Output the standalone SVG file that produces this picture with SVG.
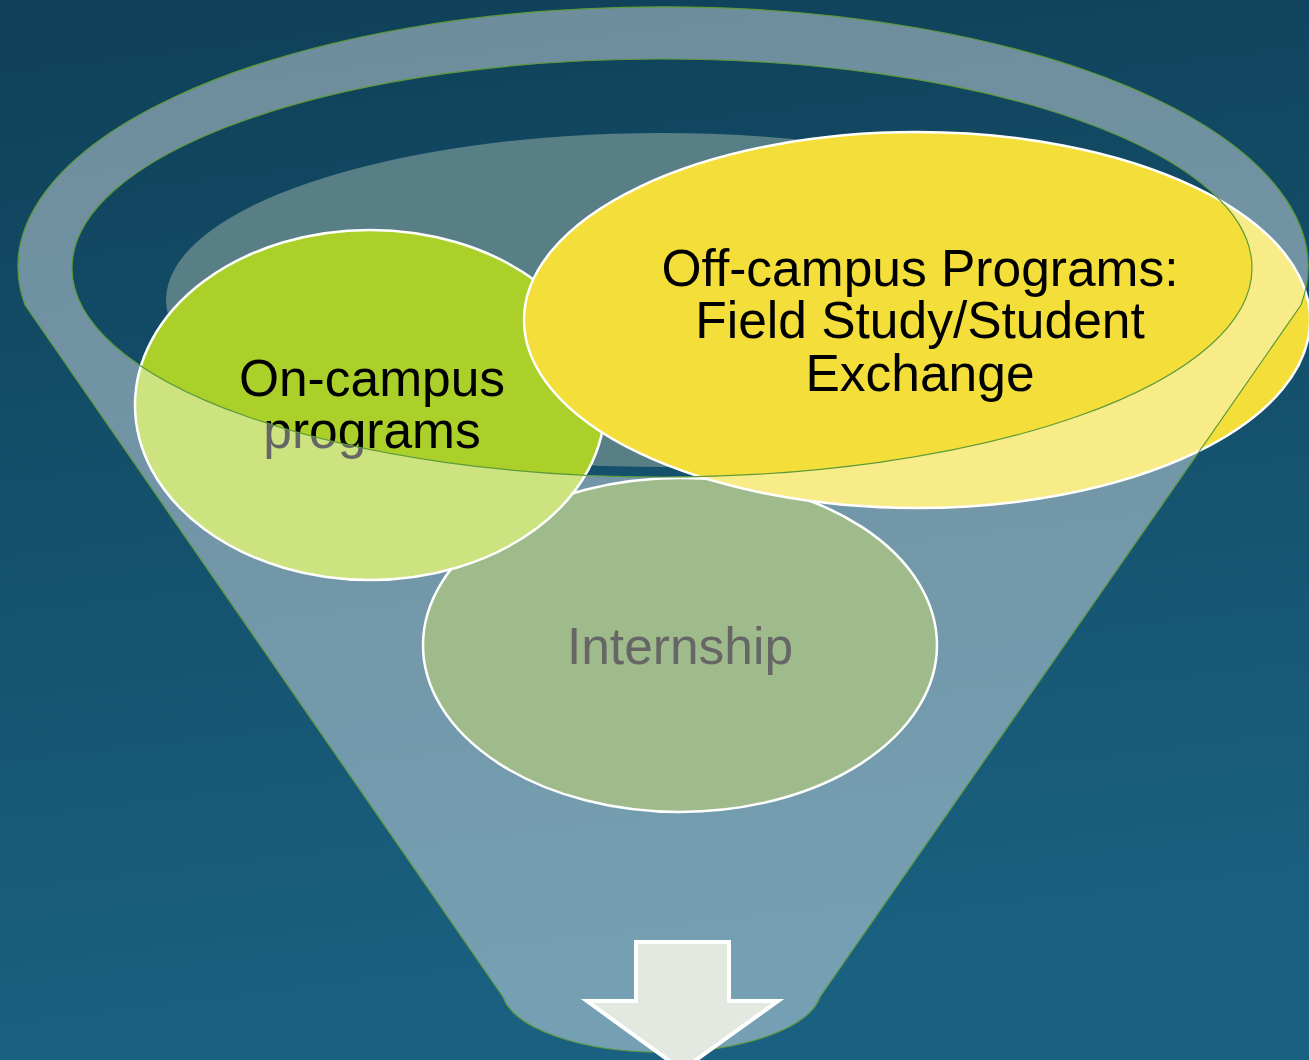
<svg xmlns="http://www.w3.org/2000/svg" width="1309" height="1060" viewBox="0 0 1309 1060">
  <defs>
    <linearGradient id="bg" x1="0" y1="0" x2="0.15" y2="1">
      <stop offset="0" stop-color="#0f4058"/>
      <stop offset="1" stop-color="#1a6181"/>
    </linearGradient>
  </defs>
  <style>
    .node { stroke: #ffffff; stroke-width: 2.5; }
    .lbl { font-family: "Liberation Sans", Arial, sans-serif; font-size: 51.5px; text-anchor: middle; fill: #000000; }
    .funnel { fill: #ffffff; fill-opacity: 0.4; fill-rule: evenodd; stroke: #5e9a3a; stroke-width: 1.2; }
    .arrow { fill: #e3e8e1; stroke: #ffffff; stroke-width: 4; }
  </style>
  <rect x="0" y="0" width="1309" height="1060" fill="url(#bg)"/>
  <ellipse id="funnel-back" cx="662" cy="300" rx="496" ry="167" fill="#587e86"/>
  <g id="node-internship">
    <ellipse class="node" cx="680" cy="645" rx="257" ry="167" fill="#608d3f"/>
    <text class="lbl" x="680" y="664">Internship</text>
  </g>
  <g id="node-oncampus">
    <ellipse class="node" cx="370" cy="405" rx="235" ry="175" fill="#acd02a"/>
    <text class="lbl" x="372" y="396">On-campus</text>
    <text class="lbl" x="372" y="448">programs</text>
  </g>
  <g id="node-offcampus">
    <ellipse class="node" cx="917" cy="320" rx="393" ry="188" fill="#f4df3a"/>
    <text class="lbl" x="920" y="286">Off-campus Programs:</text>
    <text class="lbl" x="920" y="338">Field Study/Student</text>
    <text class="lbl" x="920" y="391">Exchange</text>
  </g>
  <g id="funnel">
    <path class="funnel" d="M 25,305 A 645,260 0 1 1 1301,305 L 820,997 A 160,64 0 0 1 503,997 Z M 72,268 A 590,209 0 1 0 1252,268 A 590,209 0 1 0 72,268 Z"/>
  </g>
  <g id="connectors">
    <path class="arrow" d="M 636,942 L 729,942 L 729,1001 L 778,1001 L 682,1070 L 587,1001 L 636,1001 Z"/>
  </g>
</svg>
